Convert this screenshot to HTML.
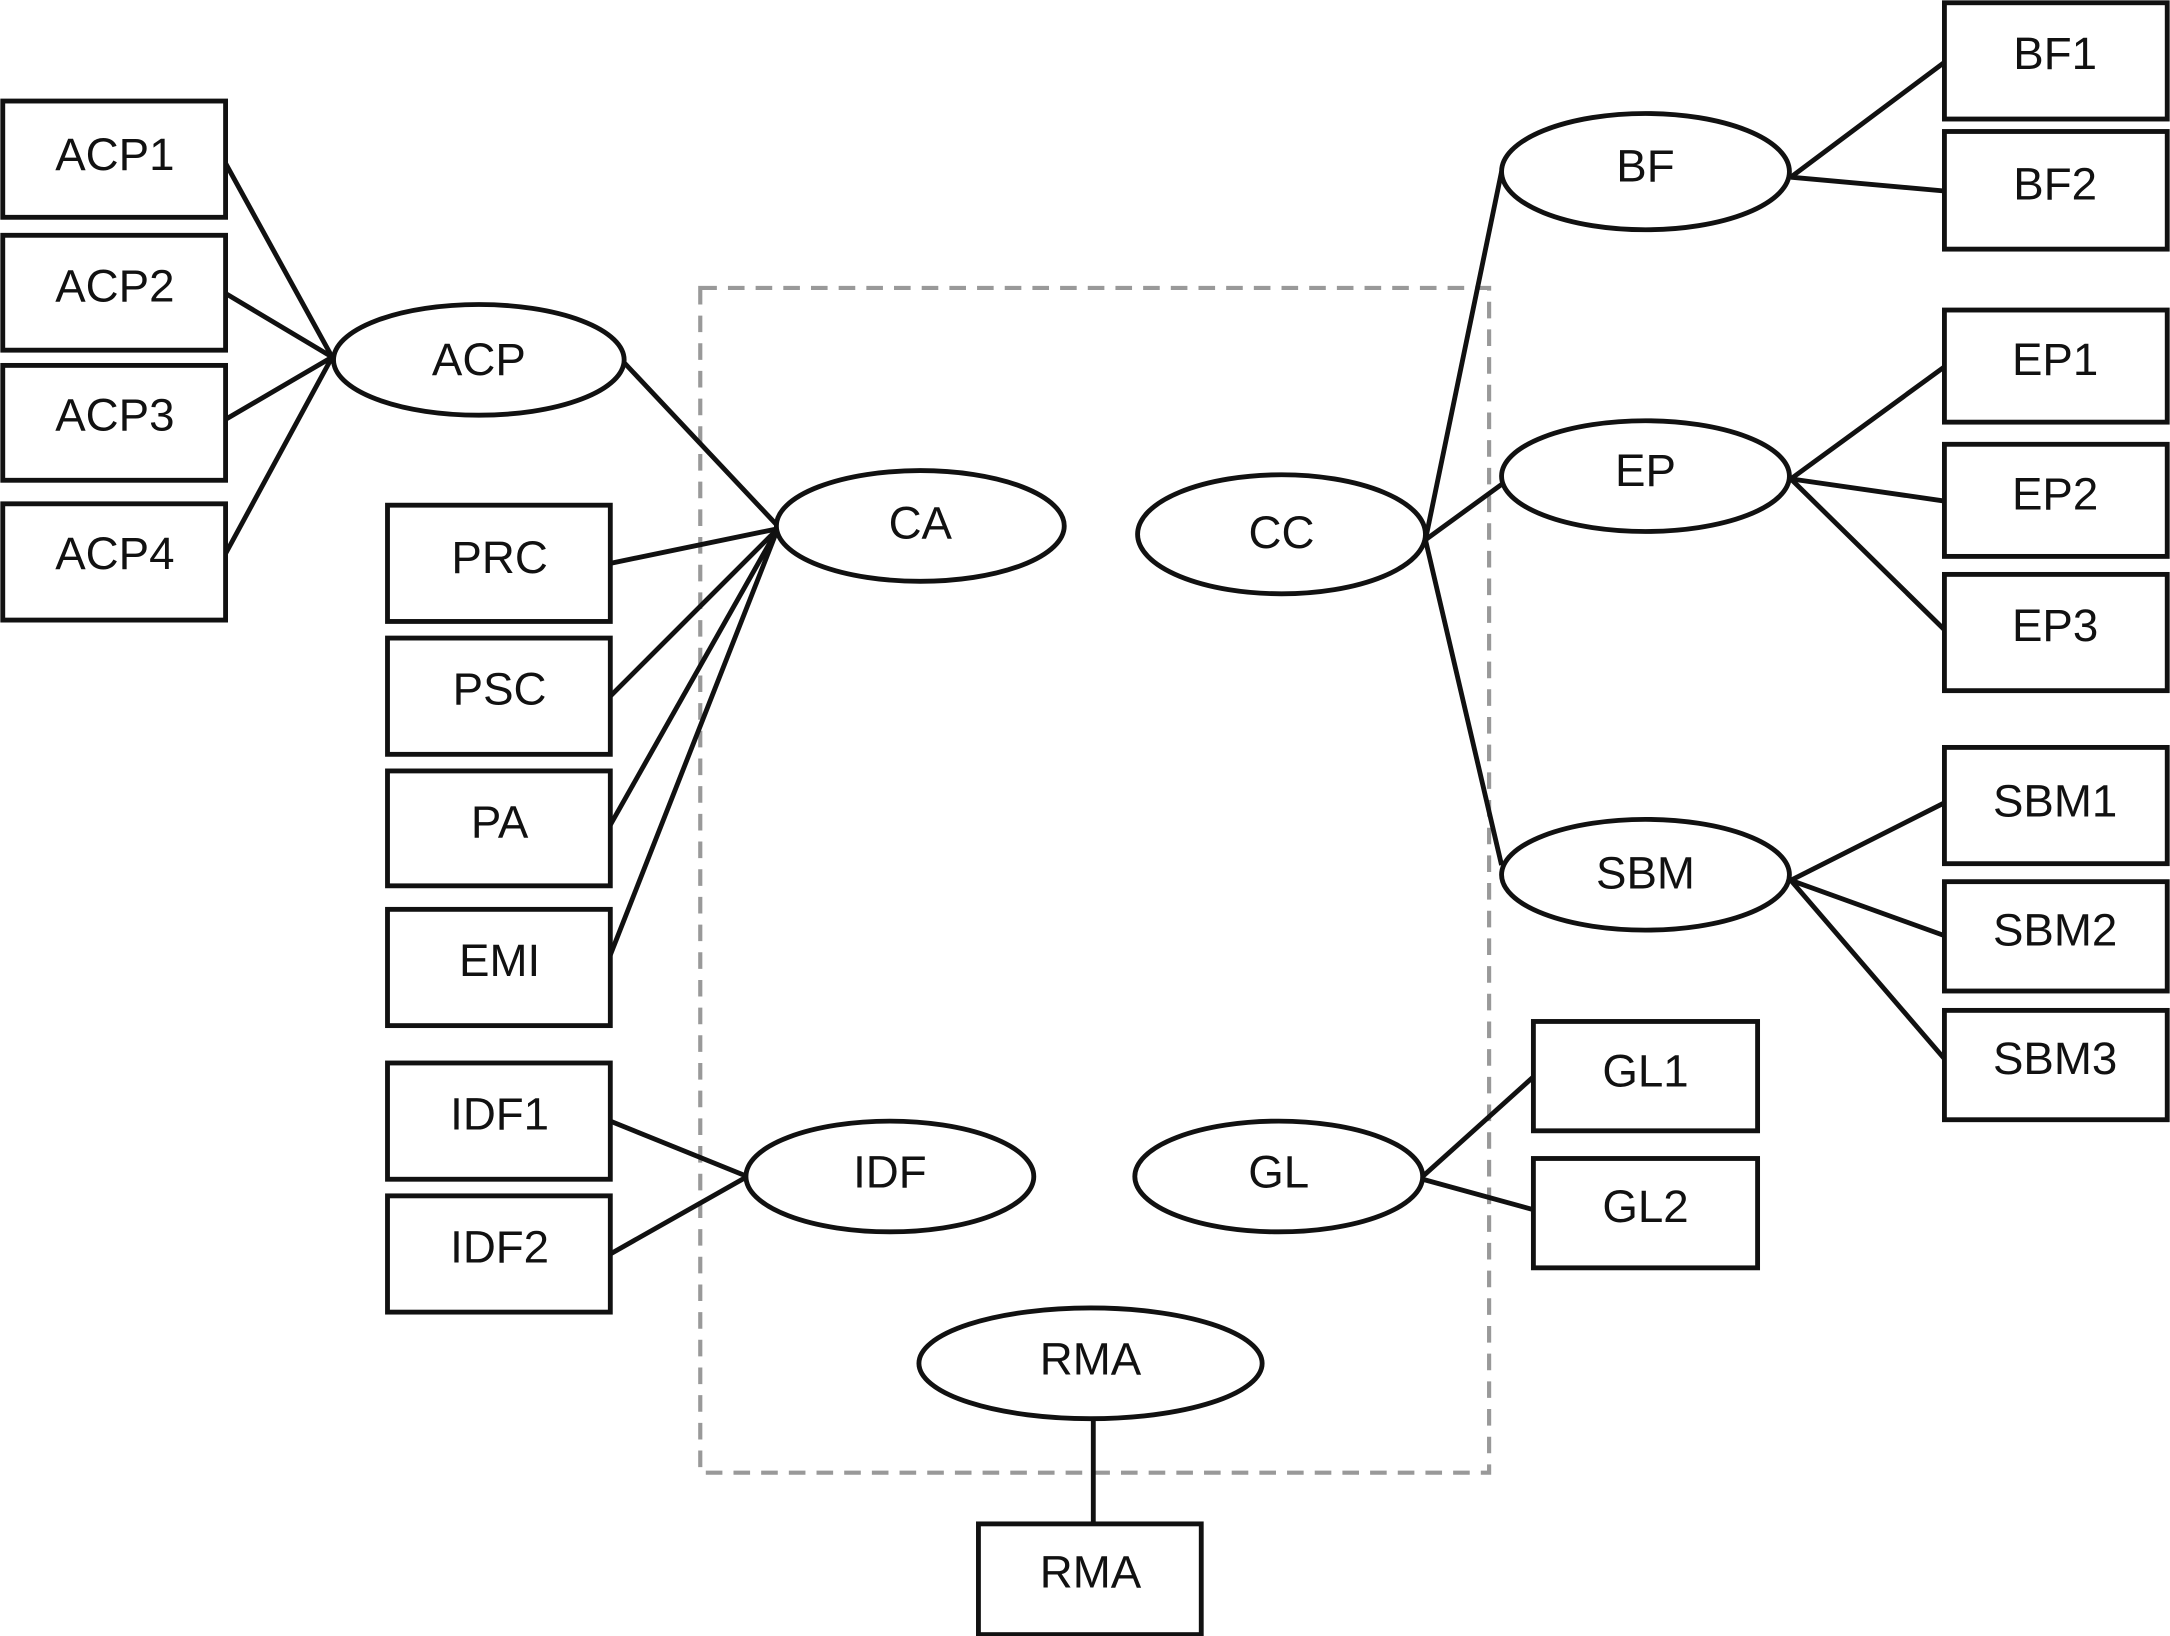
<!DOCTYPE html>
<html><head><meta charset="utf-8"><style>html,body{margin:0;padding:0;background:#fff}svg{display:block}</style></head>
<body>
<svg width="2170" height="1636" viewBox="0 0 1568 1182" preserveAspectRatio="none" xmlns="http://www.w3.org/2000/svg">
<rect x="506" y="208" width="570" height="856" fill="none" stroke="#999" stroke-width="3" stroke-dasharray="12,8"/>
<g stroke="#111" stroke-width="3.5" fill="none">
<line x1="163" y1="118" x2="240" y2="258"/><line x1="163" y1="212" x2="240" y2="258"/>
<line x1="163" y1="303" x2="240" y2="258"/><line x1="163" y1="400" x2="240" y2="258"/>
<line x1="451" y1="262" x2="562" y2="380"/>
<line x1="441" y1="407" x2="562" y2="382"/><line x1="441" y1="503" x2="562" y2="382"/>
<line x1="441" y1="596" x2="562" y2="382"/><line x1="441" y1="690" x2="562" y2="382"/>
<line x1="441" y1="810" x2="540" y2="850"/><line x1="441" y1="906" x2="540" y2="850"/>
<line x1="1030" y1="390" x2="1085" y2="124"/><line x1="1030" y1="390" x2="1085" y2="350"/><line x1="1030" y1="390" x2="1085" y2="625"/>
<line x1="1294" y1="128" x2="1405" y2="45"/><line x1="1294" y1="128" x2="1405" y2="138"/>
<line x1="1294" y1="346" x2="1405" y2="265"/><line x1="1294" y1="346" x2="1405" y2="362"/><line x1="1294" y1="346" x2="1405" y2="455"/>
<line x1="1294" y1="636" x2="1405" y2="580"/><line x1="1294" y1="636" x2="1405" y2="676"/><line x1="1294" y1="636" x2="1405" y2="765"/>
<line x1="1028" y1="850" x2="1108" y2="778"/><line x1="1028" y1="852" x2="1108" y2="874"/>
<line x1="790" y1="1025" x2="790" y2="1101"/>
</g>
<g stroke="#111" stroke-width="3.5" fill="#fff">
<rect x="2" y="73" width="161" height="84"/><rect x="2" y="170" width="161" height="83"/>
<rect x="2" y="264" width="161" height="83"/><rect x="2" y="364" width="161" height="84"/>
<rect x="280" y="365" width="161" height="84"/><rect x="280" y="461" width="161" height="84"/>
<rect x="280" y="557" width="161" height="83"/><rect x="280" y="657" width="161" height="84"/>
<rect x="280" y="768" width="161" height="84"/><rect x="280" y="864" width="161" height="84"/>
<rect x="1405" y="2" width="161" height="84"/><rect x="1405" y="95" width="161" height="85"/>
<rect x="1405" y="224" width="161" height="81"/><rect x="1405" y="321" width="161" height="81"/><rect x="1405" y="415" width="161" height="84"/>
<rect x="1405" y="540" width="161" height="84"/><rect x="1405" y="637" width="161" height="79"/><rect x="1405" y="730" width="161" height="79"/>
<rect x="1108" y="738" width="162" height="79"/><rect x="1108" y="837" width="162" height="79"/>
<rect x="707" y="1101" width="161" height="80"/>
<ellipse cx="346" cy="260" rx="105" ry="40"/><ellipse cx="665" cy="380" rx="104" ry="40"/>
<ellipse cx="643" cy="850" rx="104" ry="40"/><ellipse cx="926" cy="386" rx="104" ry="43"/>
<ellipse cx="1189" cy="124" rx="104" ry="42"/><ellipse cx="1189" cy="344" rx="104" ry="40"/>
<ellipse cx="1189" cy="632" rx="104" ry="40"/><ellipse cx="924" cy="850" rx="104" ry="40"/>
<ellipse cx="788" cy="985" rx="124" ry="40"/>
</g>
<g font-family="Liberation Sans, sans-serif" font-size="33" fill="#111" text-anchor="middle">
<text x="83" y="123">ACP1</text><text x="83" y="218">ACP2</text><text x="83" y="311">ACP3</text><text x="83" y="411">ACP4</text>
<text x="346" y="271">ACP</text><text x="665" y="389">CA</text><text x="926" y="396">CC</text>
<text x="361" y="414">PRC</text><text x="361" y="509">PSC</text><text x="361" y="605">PA</text><text x="361" y="705">EMI</text>
<text x="361" y="816">IDF1</text><text x="361" y="912">IDF2</text><text x="643" y="858">IDF</text><text x="924" y="858">GL</text>
<text x="1189" y="131">BF</text><text x="1189" y="351">EP</text><text x="1189" y="642">SBM</text>
<text x="1485" y="50">BF1</text><text x="1485" y="144">BF2</text>
<text x="1485" y="271">EP1</text><text x="1485" y="368">EP2</text><text x="1485" y="463">EP3</text>
<text x="1485" y="590">SBM1</text><text x="1485" y="683">SBM2</text><text x="1485" y="776">SBM3</text>
<text x="1189" y="785">GL1</text><text x="1189" y="883">GL2</text>
<text x="788" y="993">RMA</text><text x="788" y="1147">RMA</text>
</g>
</svg>
</body></html>
